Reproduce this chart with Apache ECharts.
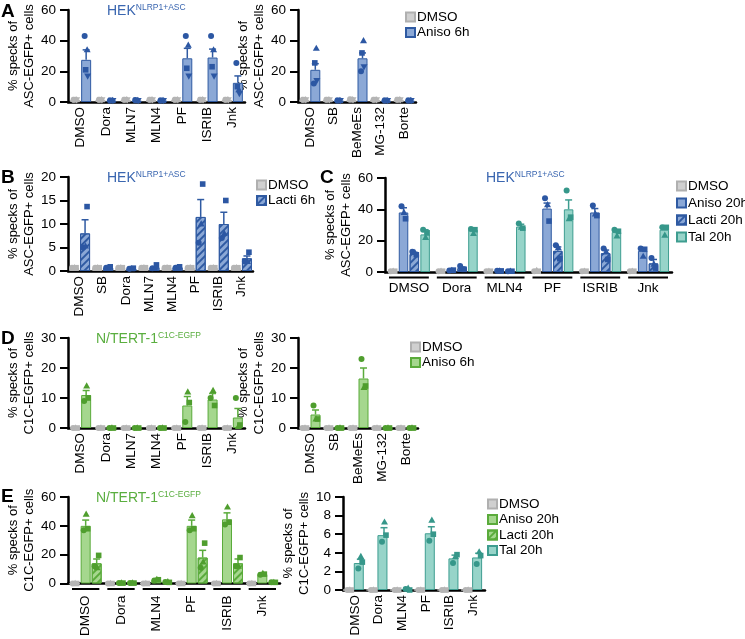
<!DOCTYPE html>
<html><head><meta charset="utf-8">
<script src="https://cdn.jsdelivr.net/npm/echarts/dist/echarts.min.js"></script>
<style>html,body{margin:0;padding:0;background:#fff}#c{width:745px;height:639px}</style>
</head><body><div id="c"></div>
<script>
// ---------------- DATA ----------------
// Panel A (left)
const catsA1 = ['DMSO','Dora','MLN7','MLN4','PF','ISRIB','Jnk'];
const a1Ctrl = [1.5,1.5,1.5,1.5,1.5,1.5,1.5];
const a1CtrlPts = [[1.5,1.5,1.5,1.5],[1.5,1.5,1.5,1.5],[1.5,1.5,1.5,1.5],[1.5,1.5,1.5,1.5],[1.5,1.5,1.5,1.5],[1.5,1.5,1.5,1.5],[1.5,1.5,1.5,1.5]];
const a1Aniso = [27.5,1,1,1,28.5,29,12.5];
const a1AnisoErr = [6.5,0,0,0,6.5,5.5,4.5];
const a1AnisoPts = [[43,34,21,17],[1,1,1,1],[1.3,1,1,1],[1,1,1,1],[43,37,22,17],[43,34,23,17],[25.5,8,10,5.5]];
// Panel A (right)
const catsA2 = ['DMSO','SB','BeMeEs','MG-132','Borte'];
const a2Ctrl = [1.5,1.5,1.5,1.5,1.5];
const a2CtrlPts = [[1.5,1.5,1.5,1.5],[1.5,1.5,1.5,1.5],[1.8,1.5,1.5,1.5],[1.5,1.5,1.5,1.5],[1.5,1.5,1.5,1.5]];
const a2Aniso = [21,1,28.5,1,1];
const a2AnisoErr = [4,0,3.5,0,0];
const a2AnisoPts = [[12,35,25.5,14],[1,1,1,1],[20,40,32,23],[1,1,1,1],[1,1,1,1]];
// Panel B
const catsB = ['DMSO','SB','Dora','MLN7','MLN4','PF','ISRIB','Jnk'];
const bCtrl = [0.7,0.7,0.7,0.7,0.7,0.7,0.7,0.7];
const bCtrlPts = [[0.7,0.7,0.7],[0.7,0.7,0.7],[0.7,0.7,0.7],[0.7,0.7,0.7],[0.7,0.7,0.7],[0.7,0.7,0.7],[0.7,0.7,0.7],[0.7,0.7,0.7]];
const bLacti = [8,0.7,0.5,0.8,0.8,11.5,10,2.7];
const bLactiErr = [2.9,0,0,0,0,3.7,2.5,0.5];
const bLactiPts = [[5,5.3,13.7],[0.7,0.7,0.9],[0.5,0.5,0.6],[0.6,0.6,1.3],[0.7,0.7,0.9],[6,10,18.5],[7,8,15],[2,2,4]];
// Panel C
const catsC = ['DMSO','Dora','MLN4','PF','ISRIB','Jnk'];
const cCtrl = [0.5,0.5,0.5,0.5,0.5,0.5];
const cCtrlPts = [[0.5,0.5,0.5],[0.5,0.5,0.5],[0.5,0.5,0.5],[0.5,1,0.5],[0.5,0.5,0.5],[0.5,0.5,0.5]];
const cAniso = [38,1,0.7,40.5,38,13.5];
const cAnisoErr = [3,0,0,3.5,2.5,1.5];
const cAnisoPts = [[42,38,34],[1,1,1.2],[0.8,0.7,0.7],[47,43,32.5],[42.5,37,36],[15,10,14.5]];
const cLacti = [11.5,2.5,0.5,13.5,12,5.5];
const cLactiErr = [1,0.7,0,2.5,2,2.5];
const cLactiPts = [[13,12.5,11],[3.8,2,1.7],[0.5,0.5,0.5],[17,15.5,8.5],[15,13,8],[9,5,2.5]];
const cTal = [24,27,29,40,25.5,27];
const cTalErr = [3,1,1.5,6,1.5,1.5];
const cTalPts = [[27,22,25],[27.5,24.5,27],[31,28.5,28],[52,34,35],[27,23,26],[28.5,23.5,28.5]];
// Panel D (left)
const catsD1 = ['DMSO','Dora','MLN7','MLN4','PF','ISRIB','Jnk'];
const d1Ctrl = [0,0,0,0,0,0,0];
const d1CtrlPts = [[0,0,0],[0,0,0],[0,0,0],[0,0,0],[0,0,0],[0,0,0],[0,0,0]];
const d1Aniso = [11,0,0,0,7.5,9.5,3.5];
const d1AnisoErr = [1.5,0,0,0,3,2,3];
const d1AnisoPts = [[9,14,10],[0,0,0],[0,0,0],[0,0,0],[2,12,8.5],[10,12.5,7.5],[10,0.5,1]];
// Panel D (right)
const catsD2 = ['DMSO','SB','BeMeEs','MG-132','Borte'];
const d2Ctrl = [0,0,0,0,0];
const d2CtrlPts = [[0,0,0],[0,0,0],[0,0,0],[0,0,0],[0,0,0]];
const d2Aniso = [4.5,0,16.5,0,0];
const d2AnisoErr = [1.5,0,3.5,0,0];
const d2AnisoPts = [[7.5,3,3],[0,0,0],[23,13.5,14],[0,0,0],[0,0,0]];
// Panel E (left)
const catsE1 = ['DMSO','Dora','MLN4','PF','ISRIB','Jnk'];
const e1Ctrl = [0,0,0,0,0,0];
const e1CtrlPts = [[0,0,0],[0,0,0],[0,0,0],[0,0,0],[0,0,0],[0,0,0]];
const e1Aniso = [40,0.3,2.5,40,44.5,6.5];
const e1AnisoErr = [4,0,0.3,4,4.5,0.8];
const e1AnisoPts = [[37,48,38],[0.3,0.3,0.3],[2,2.8,2.6],[37,47,38],[41,53,42.5],[6,7,6.5]];
const e1Lacti = [14,0.3,1,18,14,0.8];
const e1LactiErr = [3,0,0,5,3,0];
const e1LactiPts = [[12,11,19.5],[0.3,0.3,0.3],[1,1.2,0.8],[11,15,28],[12,12,18],[0.8,0.8,0.8]];
// Panel E (right)
const catsE2 = ['DMSO','Dora','MLN4','PF','ISRIB','Jnk'];
const e2Ctrl = [0,0,0,0,0,0];
const e2CtrlPts = [[0,0,0],[0,0,0],[0,0,0],[0,0,0],[0,0,0],[0,0,0]];
const e2Tal = [2.9,5.9,0.1,6.1,3.4,3.5];
const e2TalErr = [0.4,0.8,0,0.7,0.35,0.45];
const e2TalPts = [[2.3,3.6,3.0],[5.2,7.3,5.9],[0.1,0.2,0],[5.3,7.5,6.0],[2.9,3.6,3.8],[2.8,4.1,3.7]];

// ---------------- STYLE ----------------
const FONT = '"Liberation Sans", Arial, Helvetica, sans-serif';
const GRAY = {fill:'#d0d0d0', stroke:'#b0b0b0', pt:'#b5b5b5'};
const BLUE = {fill:'#8ba8d6', stroke:'#2f5aa2', pt:'#2c57a3'};
const GREEN = {fill:'#a5d78e', stroke:'#5aab3b', pt:'#4f9e2e'};
const TEAL = {fill:'#97d4c9', stroke:'#3e9d90', pt:'#36978a'};
const TBLUE = '#3a66b0', TGREEN = '#5aae3f';
const yAsc = '% specks of\nASC-EGFP+ cells';
const yC1c = '% specks of\nC1C-EGFP+ cells';
const LBL = 13.5;

const option = {animation:false, backgroundColor:'#fff', textStyle:{fontFamily:FONT},
  title:[], legend:[], grid:[], xAxis:[], yAxis:[], series:[]};

function hatch(col){
  return {symbol:'rect', symbolSize:1, dashArrayX:[1,0], dashArrayY:[1.6,2.2], rotation:-Math.PI/4, color:col};
}
function errRender(off, col){
  return function(params, api){
    const c = api.value(0), m = api.value(1), e = api.value(2);
    const p0 = api.coord([c, m]), p1 = api.coord([c, m+e]);
    const x = p0[0] + off;
    return {type:'group', children:[
      {type:'line', shape:{x1:x,y1:p0[1],x2:x,y2:p1[1]}, style:{stroke:col, lineWidth:1.5}},
      {type:'line', shape:{x1:x-3.5,y1:p1[1],x2:x+3.5,y2:p1[1]}, style:{stroke:col, lineWidth:1.5}}
    ]};
  };
}
function ptRender(off, col, jit){
  return function(params, api){
    const c = api.value(0), v = api.value(1), m = api.value(2);
    const p = api.coord([c, v]);
    const x = p[0] + off + jit[m], y = p[1];
    if (m===0) return {type:'circle', shape:{cx:x,cy:y,r:3}, style:{fill:col}};
    if (m===1) return {type:'polygon', shape:{points:[[x,y-3.7],[x+3.5,y+2.5],[x-3.5,y+2.5]]}, style:{fill:col}};
    if (m===2) return {type:'rect', shape:{x:x-2.8,y:y-2.8,width:5.6,height:5.6}, style:{fill:col}};
    return {type:'polygon', shape:{points:[[x,y+3.7],[x+3.5,y-2.5],[x-3.5,y-2.5]]}, style:{fill:col}};
  };
}
function ulRender(){
  return function(params, api){
    const c = api.value(0);
    const p = api.coord([c, 0]);
    const bw = api.size([1, 0])[0];
    const y = p[1] + 5.5;
    return {type:'line', shape:{x1:p[0]-bw/2+4, y1:y, x2:p[0]+bw/2-4, y2:y}, style:{stroke:'#000', lineWidth:2}};
  };
}

function addPanel(p){
  const gi = option.grid.length;
  option.grid.push({left:p.left, top:p.top, width:p.width, height:p.height});
  option.xAxis.push({type:'category', gridIndex:gi, data:p.cats,
    axisLine:{lineStyle:{color:'#000', width:2.5}}, axisTick:{show:false},
    axisLabel:{interval:0, rotate:p.rotate?90:0, margin:p.labelMargin, fontSize:LBL, color:'#000', fontFamily:FONT}});
  option.yAxis.push({type:'value', gridIndex:gi, min:0, max:p.max, interval:p.interval,
    axisLine:{show:true, lineStyle:{color:'#000', width:2.5}},
    axisTick:{show:true, length:8, lineStyle:{color:'#000', width:2}},
    axisLabel:{fontSize:LBL, color:'#000', margin:12, fontFamily:FONT},
    splitLine:{show:false},
    name:p.yName, nameLocation:'middle', nameGap:p.nameGap, nameRotate:90,
    nameTextStyle:{fontSize:13, color:'#000', lineHeight:16, fontFamily:FONT}});
  const n = p.series.length, w = p.barWidth, g = p.gap;
  const total = n*w + (n-1)*g;
  p.series.forEach((s,i)=>{
    const off = -total/2 + w/2 + i*(w+g);
    const st = s.style;
    const itemStyle = {color:st.fill, borderColor:st.stroke, borderWidth:1};
    if (s.hatch) itemStyle.decal = hatch(st.stroke);
    option.series.push({type:'bar', name:s.name, xAxisIndex:gi, yAxisIndex:gi, data:s.values,
      barWidth:w, barGap:(g/w*100)+'%', itemStyle:itemStyle, z:2, silent:true});
    const pd = [];
    s.points.forEach((arr,c)=>arr.forEach((v,m)=>{ if (v!=null) pd.push([c, v, m]); }));
    option.series.push({type:'custom', xAxisIndex:gi, yAxisIndex:gi, data:pd, z:5, clip:false, silent:true,
      renderItem: ptRender(off, st.pt, p.jitter)});
    if (s.err){
      const ed = [];
      s.err.forEach((e,c)=>{ if (e>0) ed.push([c, s.values[c], e]); });
      option.series.push({type:'custom', xAxisIndex:gi, yAxisIndex:gi, data:ed, z:4, clip:false, silent:true,
        renderItem: errRender(off, st.stroke)});
    }
  });
  if (p.underline){
    option.series.push({type:'custom', xAxisIndex:gi, yAxisIndex:gi, data:p.cats.map((c,i)=>[i,0]), z:3, clip:false, silent:true,
      renderItem: ulRender()});
  }
  if (p.legend){
    option.legend.push(legendOf(p.series.map(s=>s.name), p.legend.left, p.legend.top, p.legend.gap));
  }
}
function legendOf(names, left, top, gap){
  return {data:names, left:left, top:top, orient:'vertical', padding:0,
    itemWidth:9, itemHeight:9, itemGap:gap==null?1.5:gap, selectedMode:false, icon:'rect',
    textStyle:{fontSize:13.5, lineHeight:12, color:'#000', fontFamily:FONT, padding:[0,0,0,-3]},
    formatter: nm => nm.split('|')[0]};
}

const J4 = [-1.5, 1, -0.5, 1.5];
const J3 = [-2, 0.5, 2];
const NG = 31;

addPanel({left:68, top:10, width:177, height:92, cats:catsA1, max:60, interval:20, rotate:true, labelMargin:5,
  yName:yAsc, nameGap:NG, barWidth:10, gap:1, jitter:J4,
  series:[{name:'DMSO|A1', values:a1Ctrl, points:a1CtrlPts, style:GRAY},
          {name:'Aniso 6h|A1', values:a1Aniso, err:a1AnisoErr, points:a1AnisoPts, style:BLUE}]});
addPanel({left:298, top:10, width:118, height:92, cats:catsA2, max:60, interval:20, rotate:true, labelMargin:5,
  yName:yAsc, nameGap:NG, barWidth:10, gap:1, jitter:J4,
  legend:{left:405, top:10},
  series:[{name:'DMSO|A2', values:a2Ctrl, points:a2CtrlPts, style:GRAY},
          {name:'Aniso 6h|A2', values:a2Aniso, err:a2AnisoErr, points:a2AnisoPts, style:BLUE}]});
addPanel({left:68, top:177, width:185, height:94, cats:catsB, max:20, interval:5, rotate:true, labelMargin:5,
  yName:yAsc, nameGap:NG, barWidth:10, gap:1, jitter:J3,
  legend:{left:256, top:178},
  series:[{name:'DMSO|B', values:bCtrl, points:bCtrlPts, style:GRAY},
          {name:'Lacti 6h|B', values:bLacti, err:bLactiErr, points:bLactiPts, style:BLUE, hatch:true}]});
addPanel({left:385, top:178, width:287, height:94, cats:catsC, max:60, interval:20, rotate:false, labelMargin:9,
  yName:yAsc, nameGap:NG, barWidth:9.5, gap:1.3, jitter:J3, underline:true,
  legend:{left:676, top:179, gap:3},
  series:[{name:'DMSO|C', values:cCtrl, points:cCtrlPts, style:GRAY},
          {name:'Aniso 20h|C', values:cAniso, err:cAnisoErr, points:cAnisoPts, style:BLUE},
          {name:'Lacti 20h|C', values:cLacti, err:cLactiErr, points:cLactiPts, style:BLUE, hatch:true},
          {name:'Tal 20h|C', values:cTal, err:cTalErr, points:cTalPts, style:TEAL}]});
addPanel({left:68, top:338, width:177, height:90, cats:catsD1, max:30, interval:10, rotate:true, labelMargin:5,
  yName:yC1c, nameGap:NG, barWidth:10, gap:1, jitter:J3,
  series:[{name:'DMSO|D1', values:d1Ctrl, points:d1CtrlPts, style:GRAY},
          {name:'Aniso 6h|D1', values:d1Aniso, err:d1AnisoErr, points:d1AnisoPts, style:GREEN}]});
addPanel({left:298, top:338, width:120, height:90, cats:catsD2, max:30, interval:10, rotate:true, labelMargin:5,
  yName:yC1c, nameGap:NG, barWidth:10, gap:1, jitter:J3,
  legend:{left:410, top:340},
  series:[{name:'DMSO|D2', values:d2Ctrl, points:d2CtrlPts, style:GRAY},
          {name:'Aniso 6h|D2', values:d2Aniso, err:d2AnisoErr, points:d2AnisoPts, style:GREEN}]});
addPanel({left:68, top:497, width:212, height:93, cats:catsE1, max:60, interval:20, rotate:true, labelMargin:12,
  yName:yC1c, nameGap:NG, barWidth:10, gap:1, jitter:J3, underline:true,
  series:[{name:'DMSO|E1', values:e1Ctrl, points:e1CtrlPts, style:GRAY},
          {name:'Aniso 20h|E1', values:e1Aniso, err:e1AnisoErr, points:e1AnisoPts, style:GREEN},
          {name:'Lacti 20h|E1', values:e1Lacti, err:e1LactiErr, points:e1LactiPts, style:GREEN, hatch:true}]});
addPanel({left:343, top:497, width:142, height:93, cats:catsE2, max:10, interval:2, rotate:true, labelMargin:5,
  yName:yC1c, nameGap:30, barWidth:10, gap:1, jitter:J3,
  series:[{name:'DMSO|E2', values:e2Ctrl, points:e2CtrlPts, style:GRAY},
          {name:'Tal 20h|E2', values:e2Tal, err:e2TalErr, points:e2TalPts, style:TEAL}]});

// legend for E right (shows all four treatments)
option.series.push({type:'bar', name:'Aniso 20h|E2L', xAxisIndex:7, yAxisIndex:7, data:[], itemStyle:{color:GREEN.fill, borderColor:GREEN.stroke, borderWidth:1}});
option.series.push({type:'bar', name:'Lacti 20h|E2L', xAxisIndex:7, yAxisIndex:7, data:[], itemStyle:{color:GREEN.fill, borderColor:GREEN.stroke, borderWidth:1, decal:hatch(GREEN.stroke)}});
option.legend.push(legendOf(['DMSO|E2','Aniso 20h|E2L','Lacti 20h|E2L','Tal 20h|E2'], 487, 497));

// panel letters and cell-line titles
function letter(t, x, y){ option.title.push({text:t, left:x, top:y, padding:0, textStyle:{fontSize:19, fontWeight:'bold', color:'#000', fontFamily:FONT}}); }
function cellTitle(main, sup, col, x, y){
  option.title.push({text:'{a|'+main+'}{b|'+sup+'}', left:x, top:y, padding:0, textStyle:{fontWeight:'normal', rich:{
    a:{fontSize:14, color:col, fontFamily:FONT, fontWeight:'normal', lineHeight:16},
    b:{fontSize:8.5, color:col, fontFamily:FONT, fontWeight:'normal', lineHeight:9, verticalAlign:'top'}}}});
}
letter('A', 1, 2); letter('B', 1, 168); letter('C', 320, 168); letter('D', 1, 329); letter('E', 1, 487);
cellTitle('HEK','NLRP1+ASC', TBLUE, 107, 3);
cellTitle('HEK','NLRP1+ASC', TBLUE, 107, 170);
cellTitle('HEK','NLRP1+ASC', TBLUE, 486, 170);
cellTitle('N/TERT-1','C1C-EGFP', TGREEN, 96, 331);
cellTitle('N/TERT-1','C1C-EGFP', TGREEN, 96, 490);

const chart = echarts.init(document.getElementById('c'), null, {renderer:'canvas'});
chart.setOption(option);
</script></body></html>
